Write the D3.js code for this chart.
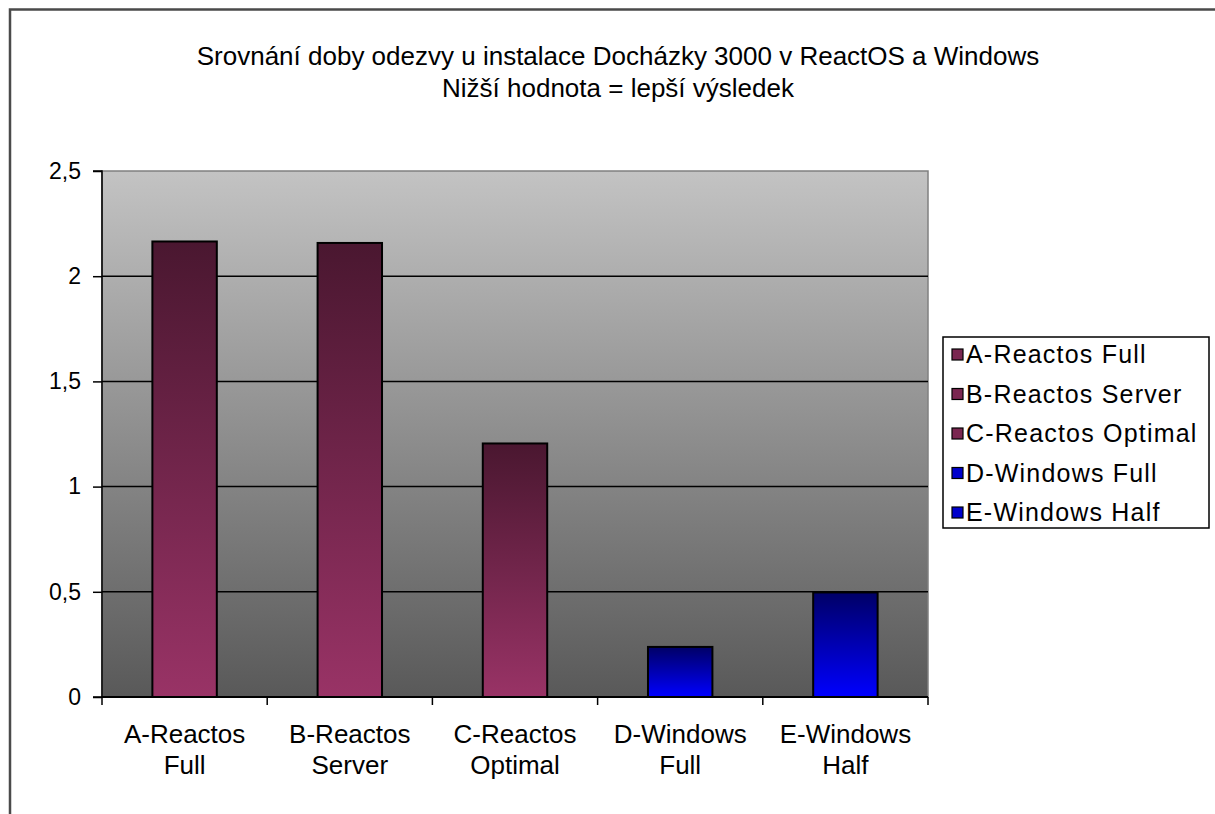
<!DOCTYPE html>
<html><head><meta charset="utf-8">
<script src="https://cdn.jsdelivr.net/npm/d3@7"></script>
<style>
body{margin:0;background:#fff;}
svg{display:block;font-family:"Liberation Sans",Arial,sans-serif;}
</style></head><body>
<svg id="c" width="1215" height="814"></svg>
<script>
const categories = ["A-Reactos Full","B-Reactos Server","C-Reactos Optimal","D-Windows Full","E-Windows Half"];
const labelLines = [["A-Reactos","Full"],["B-Reactos","Server"],["C-Reactos","Optimal"],["D-Windows","Full"],["E-Windows","Half"]];
const values = [2.165, 2.158, 1.205, 0.238, 0.497];
const groups = ["reactos","reactos","reactos","windows","windows"];
const yTicks = [0,0.5,1,1.5,2,2.5];
const yTickLabels = ["0","0,5","1","1,5","2","2,5"];
const titleLines = ["Srovnání doby odezvy u instalace Docházky 3000 v ReactOS a Windows","Nižší hodnota = lepší výsledek"];

const svg = d3.select("#c");
const defs = svg.append("defs");
const bg = defs.append("linearGradient").attr("id","bg").attr("x1",0).attr("y1",0).attr("x2",0).attr("y2",1);
bg.append("stop").attr("offset","0%").attr("stop-color","#c3c3c3");
bg.append("stop").attr("offset","100%").attr("stop-color","#595959");
const gp = defs.append("linearGradient").attr("id","g-reactos").attr("x1",0).attr("y1",0).attr("x2",0).attr("y2",1);
gp.append("stop").attr("offset","0%").attr("stop-color","#4a1730");
gp.append("stop").attr("offset","100%").attr("stop-color","#993366");
const gb = defs.append("linearGradient").attr("id","g-windows").attr("x1",0).attr("y1",0).attr("x2",0).attr("y2",1);
gb.append("stop").attr("offset","0%").attr("stop-color","#000066");
gb.append("stop").attr("offset","100%").attr("stop-color","#0000ff");
const swatchColor = {reactos:"#7a2650", windows:"#0000cc"};

// outer frame
svg.append("rect").attr("x",10).attr("y",9.5).attr("width",1230).attr("height",840)
  .attr("fill","none").attr("stroke","#4a4a4a").attr("stroke-width",2.5);

const L=102, T=171, R=928, B=697;
const x = d3.scaleBand().domain(categories).range([L,R]).paddingInner(0.61).paddingOuter(0.305);
const xb = d3.scaleBand().domain(categories).range([L,R]);
const y = d3.scaleLinear().domain([0,2.5]).range([B,T]);

svg.append("rect").attr("x",L).attr("y",T).attr("width",R-L).attr("height",B-T).attr("fill","url(#bg)")
  .attr("stroke","#808080").attr("stroke-width",1.5);

// gridlines
svg.append("g").selectAll("line").data(yTicks.filter(d=>d>0 && d<2.5)).join("line")
  .attr("x1",L).attr("x2",R).attr("y1",d=>y(d)).attr("y2",d=>y(d))
  .attr("stroke","#000").attr("stroke-width",1.5);

// bars
svg.append("g").selectAll("rect").data(values).join("rect")
  .attr("x",(d,i)=>x(categories[i])).attr("width",x.bandwidth())
  .attr("y",d=>y(d)).attr("height",d=>B-y(d))
  .attr("fill",(d,i)=>`url(#g-${groups[i]})`).attr("stroke","#000").attr("stroke-width",2);

// y axis
const ya = svg.append("g").attr("transform",`translate(${L},0)`)
  .call(d3.axisLeft(y).tickValues(yTicks).tickFormat((d,i)=>yTickLabels[i]).tickSize(9).tickPadding(12));
ya.select(".domain").attr("stroke","#000").attr("stroke-width",1.5).attr("d",`M-9,${T}H0V${B}H-9`);
ya.selectAll(".tick line").attr("stroke","#000").attr("stroke-width",1.5);
ya.selectAll(".tick text").attr("font-size",23).attr("fill","#000").style("font-family","Liberation Sans, Arial, sans-serif");

// x axis
const xa = svg.append("g").attr("transform",`translate(0,${B})`);
xa.append("line").attr("x1",L).attr("x2",R).attr("y1",0).attr("y2",0).attr("stroke","#000").attr("stroke-width",2);
xa.selectAll("line.t").data([...categories.map(c=>xb(c)), R]).join("line").attr("class","t")
  .attr("x1",d=>d).attr("x2",d=>d).attr("y1",0).attr("y2",8).attr("stroke","#000").attr("stroke-width",1.5);
const xl = xa.selectAll("text").data(labelLines).join("text")
  .attr("text-anchor","middle").attr("font-size",26).attr("fill","#000")
  .attr("transform",(d,i)=>`translate(${xb(categories[i])+xb.bandwidth()/2},0)`);
xl.selectAll("tspan").data(d=>d).join("tspan").attr("x",0).attr("y",(d,j)=>46+j*31).text(d=>d);

// title
svg.append("g").selectAll("text").data(titleLines).join("text")
  .attr("x",618).attr("y",(d,i)=>65+i*32).attr("text-anchor","middle").attr("font-size",26).attr("fill","#000").text(d=>d);

// legend
const lg = svg.append("g");
lg.append("rect").attr("x",943).attr("y",337).attr("width",266).attr("height",191)
  .attr("fill","#fff").attr("stroke","#000").attr("stroke-width",1.5);
const li = lg.selectAll("g.i").data(categories).join("g").attr("class","i")
  .attr("transform",(d,i)=>`translate(952,${354+i*39.5})`);
li.append("rect").attr("x",0).attr("y",-5).attr("width",11).attr("height",11)
  .attr("fill",(d,i)=>swatchColor[groups[i]]).attr("stroke","#000").attr("stroke-width",1.2);
li.append("text").attr("x",14).attr("y",9).attr("font-size",25).attr("letter-spacing",1.2).attr("fill","#000").text(d=>d);
</script>
</body></html>
